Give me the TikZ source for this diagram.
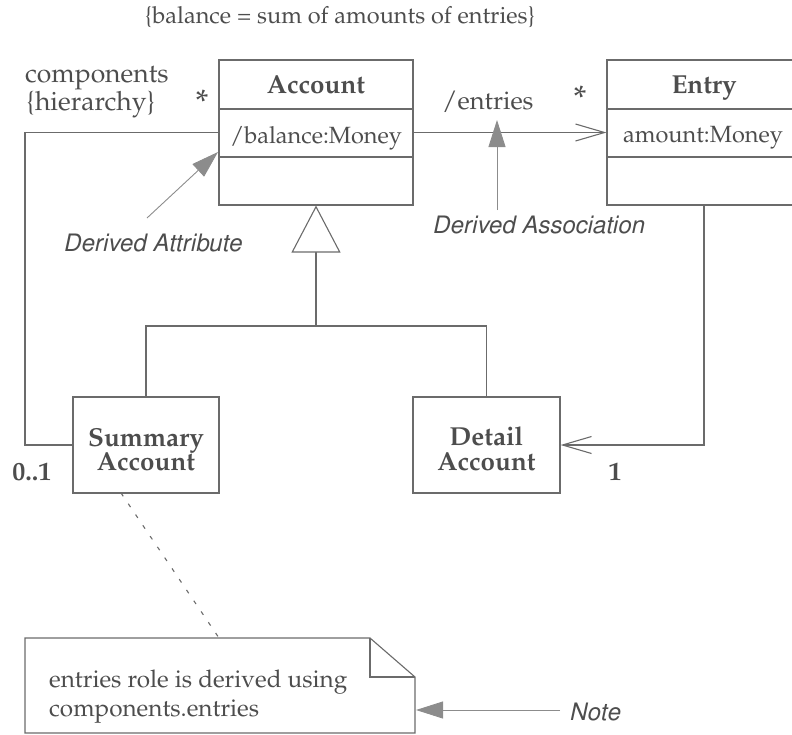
\documentclass[tikz,border=0pt]{standalone}
\usepackage[T1]{fontenc}
\usepackage{mathpazo}
\usepackage{helvet}
\usetikzlibrary{arrows.meta}
\definecolor{ink}{HTML}{4D4D4D}
\definecolor{wire}{HTML}{6B6B6B}
\definecolor{pointer}{HTML}{8C8C8C}
\begin{document}
\begin{tikzpicture}[x=1pt,y=-1pt,
  txt/.style={text=ink, inner sep=0pt, font=\fontsize{23.5}{27}\selectfont},
  role/.style={text=ink, inner sep=0pt, font=\fontsize{25.5}{29}\selectfont},
  bigrole/.style={text=ink, inner sep=0pt, font=\fontsize{26.5}{30}\selectfont},
  notetext/.style={text=ink, inner sep=0pt, font=\fontsize{24.3}{28}\selectfont},
  bold/.style={text=ink, inner sep=0pt, font=\fontsize{26}{30}\selectfont\bfseries},
  mult/.style={text=ink, inner sep=0pt, font=\fontsize{34}{38}\selectfont},
  hint/.style={text=ink, inner sep=0pt, font=\fontsize{24}{28}\selectfont\sffamily\itshape},
  classbox/.style={draw=wire, line width=1.1pt, inner sep=0pt},
  wireline/.style={draw=wire, line width=1.1pt},
  navigable/.style={wireline, -{Straight Barb[length=29pt,width=17pt]}},
  pointer/.style={draw=pointer, line width=0.9pt, -{Triangle[length=27pt,width=17pt,fill=pointer]}},
  general/.style={wireline, -{Triangle[open,length=47pt,width=49pt,fill=white]}},
]
\useasboundingbox (0,0) rectangle (792,734);

% constraint
\node[txt, anchor=base] (constr) at (340,23) {\{balance = sum of amounts of entries\}};

% Account
\node[classbox, minimum width=194pt, minimum height=145pt] (acc) at (316,132.5) {};
\draw[wireline] (219,109) -- (413,109);
\draw[wireline] (219,157) -- (413,157);
\node[bold, anchor=base] (accname) at (316,93) {Account};
\node[txt, anchor=base] (accattr) at (316,143) {/balance:Money};

% Entry
\node[classbox, minimum width=194pt, minimum height=145pt] (ent) at (704,132.5) {};
\draw[wireline] (607,109) -- (801,109);
\draw[wireline] (607,157) -- (801,157);
\node[bold, anchor=base] (entname) at (704,93) {Entry};
\node[txt, anchor=base] (entattr) at (703,142) {amount:Money};

% Summary and Detail
\node[classbox, minimum width=146pt, minimum height=96pt] (sum) at (146,445) {};
\node[bold, anchor=base] (sum1) at (146,446) {Summary};
\node[bold, anchor=base] (sum2) at (146,470) {Account};
\node[classbox, minimum width=147pt, minimum height=96pt] (det) at (486.5,445) {};
\node[bold, anchor=base] (det1) at (486.5,445) {Detail};
\node[bold, anchor=base] (det2) at (486.5,470) {Account};

% association Account -> Entry
\draw[navigable] (acc.east) -- (ent.west);
\node[role, anchor=base west] (rolee) at (442,109) {/entries};
\node[mult] (stare) at (580,98) {*};

% recursive association
\draw[wireline] (acc.west) -- (25,132.5) |- (sum.west);
\node[bigrole, anchor=base west] (rolec) at (25,82) {components};
\node[bigrole, anchor=base west] (hier) at (26,110) {\{hierarchy\}};
\node[mult] (starc) at (202,102) {*};
\node[bold, anchor=base] (zeroone) at (32,480) {0..1};

% Entry -> Detail Account
\draw[navigable] (ent.south) |- (det.east);
\node[bold, anchor=base] (one) at (615,480) {1};

% generalization
\coordinate (split) at (316,326);
\draw[wireline] (sum.north) |- (split) -| (det.north);
\draw[general] (split) -- (acc.south);

% annotations
\coordinate (datail) at (147,218);
\coordinate (datip) at (218,152);
\draw[pointer] (datail) -- (datip);
\node[hint, anchor=base west] (dattr) at (63,251) {Derived Attribute};

\coordinate (dstail) at (497,210);
\coordinate (dstip) at (497,120);
\draw[pointer] (dstail) -- (dstip);
\node[hint, anchor=base west] (dassoc) at (432,233) {Derived Association};

% note
\draw[wireline, fill=white] (25,638) -- (370,638) -- (415,677) -- (415,733) -- (25,733) -- cycle;
\draw[wireline] (370,638) -- (370,677) -- (415,677);
\node[notetext, anchor=base west] (note1) at (49,687) {entries role is derived using};
\node[notetext, anchor=base west] (note2) at (49,716) {components.entries};
\coordinate (sumfoot) at (121,493);
\coordinate (notetop) at (219,638);
\draw[draw=wire, line width=1.1pt, dash pattern=on 4pt off 9pt] (sumfoot) -- (notetop);

\coordinate (ntail) at (560,710);
\coordinate (ntip) at (416,710);
\draw[pointer] (ntail) -- (ntip);
\node[hint, anchor=base west] (notelbl) at (569,720) {Note};
\end{tikzpicture}
\end{document}
